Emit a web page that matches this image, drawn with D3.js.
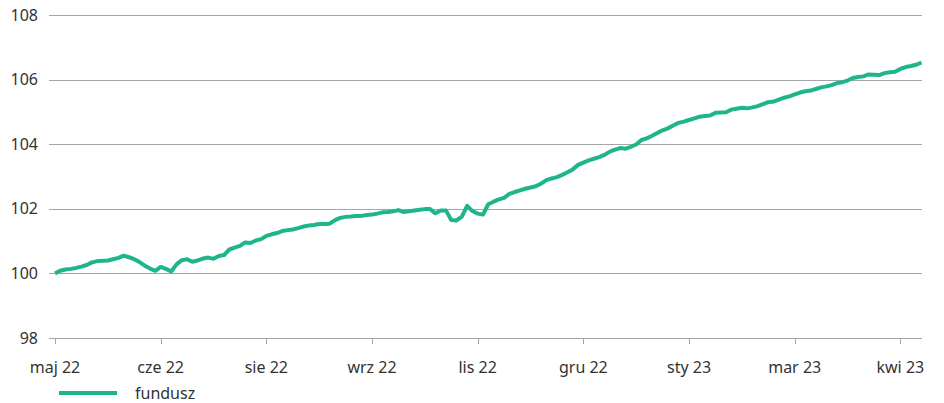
<!DOCTYPE html>
<html>
<head>
<meta charset="utf-8">
<script src="https://cdn.jsdelivr.net/npm/d3@7"></script>
<style>
  body { margin: 0; background: #fff; }
  svg { display: block; font-family: "Noto Sans", sans-serif; }
  .grid line { stroke: #a6a6a6; stroke-width: 1; }
  .tick-label { fill: #333; font-size: 16px; }
</style>
</head>
<body>
<div id="chart"></div>
<script>
// fund value, one reading every ~5px of the original picture
const fundusz = [
  100.00, 100.08, 100.12, 100.14, 100.17, 100.21, 100.26, 100.34, 100.38, 100.39,
  100.40, 100.44, 100.48, 100.55, 100.50, 100.44, 100.35, 100.24, 100.15, 100.08,
  100.20, 100.14, 100.06, 100.28, 100.41, 100.44, 100.36, 100.40, 100.46, 100.49,
  100.45, 100.54, 100.57, 100.74, 100.80, 100.85, 100.96, 100.94, 101.02, 101.06,
  101.16, 101.21, 101.25, 101.31, 101.34, 101.36, 101.40, 101.45, 101.48, 101.50,
  101.53, 101.53, 101.54, 101.65, 101.72, 101.75, 101.76, 101.78, 101.78, 101.81,
  101.82, 101.85, 101.89, 101.90, 101.92, 101.96, 101.90, 101.92, 101.95, 101.97,
  101.99, 101.99, 101.86, 101.95, 101.95, 101.65, 101.64, 101.76, 102.09, 101.93,
  101.85, 101.82, 102.14, 102.22, 102.29, 102.34, 102.46, 102.52, 102.57, 102.62,
  102.66, 102.70, 102.78, 102.89, 102.94, 102.98, 103.05, 103.13, 103.22, 103.36,
  103.43, 103.50, 103.55, 103.60, 103.67, 103.77, 103.83, 103.88, 103.86, 103.92,
  103.99, 104.13, 104.18, 104.26, 104.35, 104.43, 104.49, 104.58, 104.66, 104.70,
  104.75, 104.80, 104.85, 104.87, 104.89, 104.97, 104.98, 104.99, 105.07, 105.10,
  105.13, 105.11, 105.14, 105.18, 105.24, 105.30, 105.32, 105.38, 105.44, 105.48,
  105.54, 105.60, 105.64, 105.66, 105.71, 105.76, 105.79, 105.83, 105.89, 105.92,
  105.97, 106.05, 106.08, 106.10, 106.16, 106.15, 106.14, 106.20, 106.23, 106.24,
  106.33, 106.39, 106.42, 106.46, 106.53
];

const xLabels = ['maj 22', 'cze 22', 'sie 22', 'wrz 22', 'lis 22', 'gru 22', 'sty 23', 'mar 23', 'kwi 23'];
const labelStep = 20;
const yTicks = [98, 100, 102, 104, 106, 108];
const seriesName = 'fundusz';

const width = 944;
const height = 403;
const lineColor = '#1db589';

const svg = d3.select('#chart')
  .append('svg')
  .attr('width', width)
  .attr('height', height);

const x = d3.scaleLinear()
  .domain([0, fundusz.length - 1])
  .range([55, 921.5]);

const y = d3.scaleLinear()
  .domain([98, 108])
  .range([338, 15]);

// horizontal gridlines
const grid = svg.append('g').attr('class', 'grid');
grid.selectAll('line')
  .data(yTicks)
  .enter()
  .append('line')
  .attr('x1', 49)
  .attr('x2', 922)
  .attr('y1', d => Math.round(y(d)) + 0.5)
  .attr('y2', d => Math.round(y(d)) + 0.5);

// y labels
svg.append('g')
  .selectAll('text')
  .data(yTicks)
  .enter()
  .append('text')
  .attr('class', 'tick-label')
  .attr('x', 38)
  .attr('y', d => y(d))
  .attr('dy', '0.35em')
  .attr('text-anchor', 'end')
  .text(d => d);

// x ticks + labels
const tickIdx = xLabels.map((_, i) => i * labelStep);
const xAxis = svg.append('g');
xAxis.selectAll('line')
  .data(tickIdx)
  .enter()
  .append('line')
  .attr('x1', d => Math.round(x(d)) + 0.5)
  .attr('x2', d => Math.round(x(d)) + 0.5)
  .attr('y1', 338)
  .attr('y2', 344)
  .attr('stroke', '#a6a6a6');

xAxis.selectAll('text')
  .data(tickIdx)
  .enter()
  .append('text')
  .attr('class', 'tick-label')
  .attr('x', d => x(d))
  .attr('y', 367)
  .attr('dy', '0.35em')
  .attr('text-anchor', 'middle')
  .text((d, i) => xLabels[i]);

// the series
const line = d3.line()
  .x((d, i) => x(i))
  .y(d => y(d));

svg.append('path')
  .datum(fundusz)
  .attr('fill', 'none')
  .attr('stroke', lineColor)
  .attr('stroke-width', 4)
  .attr('stroke-linejoin', 'round')
  .attr('d', line);

// legend
const legend = svg.append('g').attr('transform', 'translate(59, 393)');
legend.append('line')
  .attr('x1', 0)
  .attr('x2', 58)
  .attr('stroke', lineColor)
  .attr('stroke-width', 4);
legend.append('text')
  .attr('class', 'tick-label')
  .attr('x', 76)
  .attr('dy', '0.35em')
  .text(seriesName);
</script>
</body>
</html>
